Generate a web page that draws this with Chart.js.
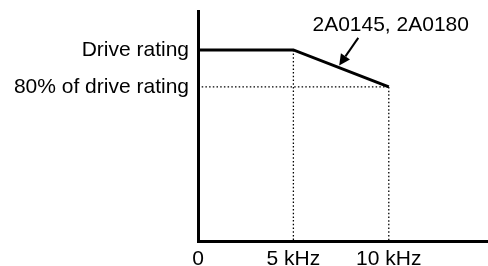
<!DOCTYPE html>
<html>
<head>
<meta charset="utf-8">
<script src="https://cdn.jsdelivr.net/npm/chart.js@4"></script>
<style>
  html, body { margin: 0; padding: 0; background: #fff; }
  #wrap { width: 488px; height: 266px; }
</style>
</head>
<body>
<div id="wrap"><canvas id="deratingChart"></canvas></div>
<script>
// carrier frequency (kHz) vs. output current (% of drive rating)
var freqKHz = [0, 5, 10];
var ratingPct = [100, 100, 80];

// axis ticks
var xTicks = [0, 5, 10];
var xTickLabels = ['0', '5 kHz', '10 kHz'];
var yTicks = [100, 80];
var yTickLabels = ['Drive rating', '80% of drive rating'];

// callout for the derating curve
var calloutText = '2A0145, 2A0180';
var calloutTextAt = [10.1, 113.5];
var calloutFrom = [8.4, 106.5];
var calloutTo = [7.4, 91.6];

var X_MAX = 15.2, Y_MIN = -3.2, Y_MAX = 121;
var FONT = 'Arial, "Liberation Sans", sans-serif';

var curve = freqKHz.map(function (x, i) { return { x: x, y: ratingPct[i] }; });

// dotted guide lines from the curve's corners
var guides = [
    { x: 0, y: ratingPct[2] }, { x: freqKHz[2], y: ratingPct[2] }, { x: NaN, y: null },
    { x: freqKHz[1], y: ratingPct[1] }, { x: freqKHz[1], y: Y_MIN }, { x: NaN, y: null },
    { x: freqKHz[2], y: ratingPct[2] }, { x: freqKHz[2], y: Y_MIN }
];

var calloutPlugin = {
    id: 'callout',
    afterDatasetsDraw: function (chart) {
        var ctx = chart.ctx, xs = chart.scales.x, ys = chart.scales.y;
        var x1 = xs.getPixelForValue(calloutFrom[0]), y1 = ys.getPixelForValue(calloutFrom[1]);
        var x2 = xs.getPixelForValue(calloutTo[0]), y2 = ys.getPixelForValue(calloutTo[1]);
        var ang = Math.atan2(y2 - y1, x2 - x1);
        var len = 11, half = 5.5;
        ctx.save();
        ctx.strokeStyle = '#000';
        ctx.fillStyle = '#000';
        ctx.lineWidth = 2;
        ctx.beginPath();
        ctx.moveTo(x1, y1);
        ctx.lineTo(x2 - Math.cos(ang) * len, y2 - Math.sin(ang) * len);
        ctx.stroke();
        ctx.beginPath();
        ctx.moveTo(x2, y2);
        ctx.lineTo(x2 - Math.cos(ang) * len - Math.sin(ang) * half, y2 - Math.sin(ang) * len + Math.cos(ang) * half);
        ctx.lineTo(x2 - Math.cos(ang) * len + Math.sin(ang) * half, y2 - Math.sin(ang) * len - Math.cos(ang) * half);
        ctx.closePath();
        ctx.fill();
        ctx.font = '21px ' + FONT;
        ctx.textAlign = 'center';
        ctx.textBaseline = 'middle';
        ctx.fillText(calloutText, xs.getPixelForValue(calloutTextAt[0]), ys.getPixelForValue(calloutTextAt[1]));
        ctx.restore();
    }
};

var ctx = document.getElementById('deratingChart').getContext('2d');
var deratingChart = new Chart(ctx, {
    type: 'scatter',
    data: {
        datasets: [{
            data: guides,
            showLine: true,
            borderColor: '#000',
            borderWidth: 1.3,
            borderDash: [1.5, 2.2],
            pointRadius: 0,
            spanGaps: false
        }, {
            data: curve,
            showLine: true,
            borderColor: '#000',
            borderWidth: 3,
            pointRadius: 0,
            clip: false
        }]
    },
    options: {
        responsive: true,
        maintainAspectRatio: false,
        animation: false,
        layout: { padding: { top: 11, right: 0, left: 0, bottom: 0 } },
        plugins: {
            legend: { display: false },
            tooltip: { enabled: false }
        },
        scales: {
            x: {
                type: 'linear',
                min: 0,
                max: X_MAX,
                grid: { display: false, drawTicks: false },
                border: { display: true, color: '#000', width: 3 },
                afterBuildTicks: function (s) { s.ticks = xTicks.map(function (v) { return { value: v }; }); },
                afterFit: function (s) { s.height = 25; s.paddingLeft = 0; s.paddingRight = 0; },
                ticks: {
                    color: '#000',
                    font: { size: 21, family: FONT },
                    padding: 6,
                    maxRotation: 0,
                    callback: function (v) { return xTickLabels[xTicks.indexOf(v)]; }
                }
            },
            y: {
                type: 'linear',
                min: Y_MIN,
                max: Y_MAX,
                grid: { display: false, drawTicks: false },
                border: { display: true, color: '#000', width: 3 },
                afterBuildTicks: function (s) { s.ticks = yTicks.map(function (v) { return { value: v }; }); },
                afterFit: function (s) { s.width = 198; s.paddingTop = 0; s.paddingBottom = 0; },
                ticks: {
                    color: '#000',
                    font: { size: 21, family: FONT },
                    padding: 9,
                    callback: function (v) { return yTickLabels[yTicks.indexOf(v)]; }
                }
            }
        }
    },
    plugins: [calloutPlugin]
});
</script>
</body>
</html>
